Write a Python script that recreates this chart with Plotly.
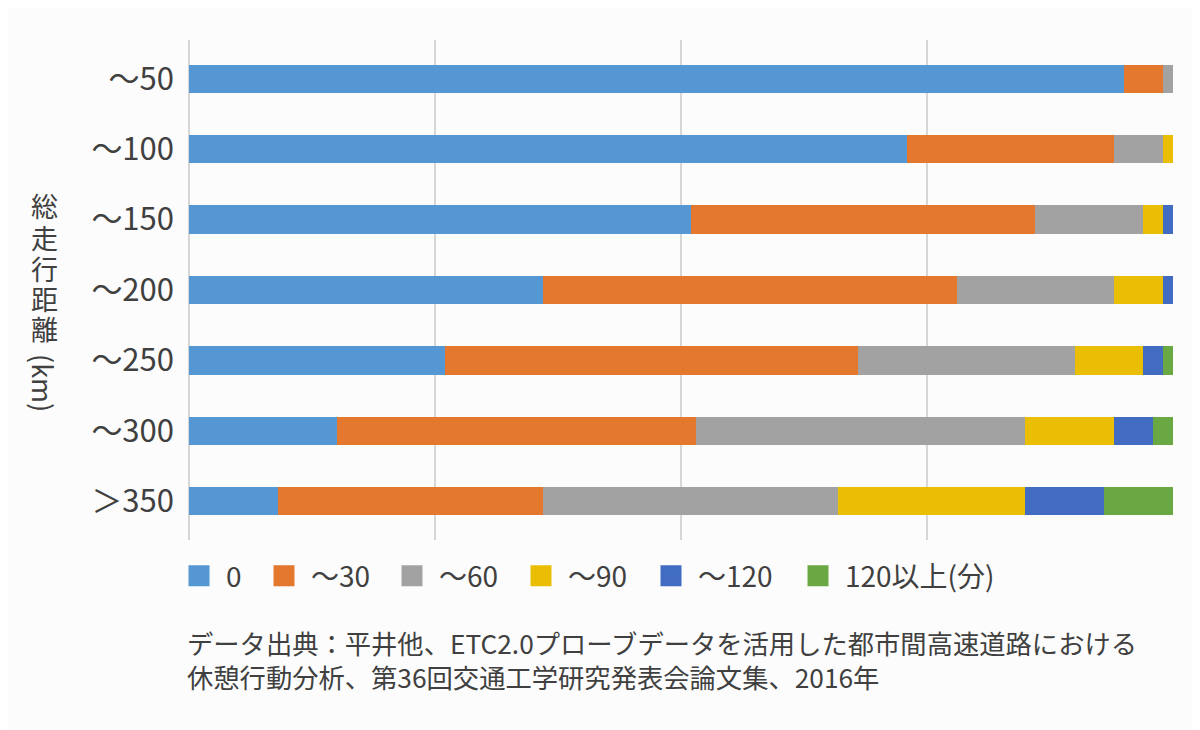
import plotly.graph_objects as go

# ---- data ----
categories = ["～50", "～100", "～150", "～200", "～250", "～300", "＞350"]
series_names = ["0", "～30", "～60", "～90", "～120", "120以上(分)"]
v_0 = [95, 73, 51, 36, 26, 15, 9]
v_30 = [4, 21, 35, 42, 42, 36.5, 27]
v_60 = [1, 5, 11, 16, 22, 33.5, 30]
v_90 = [0, 1, 2, 5, 7, 9, 19]
v_120 = [0, 0, 1, 1, 2, 4, 8]
v_120p = [0, 0, 0, 0, 1, 2, 7]
axis_title_chars = ["総", "走", "行", "距", "離"]
axis_title_unit = "(km)"
note_text = ("データ出典：平井他、ETC2.0プローブデータを活用した都市間高速道路における<br>"
             "休憩行動分析、第36回交通工学研究発表会論文集、2016年")

series_values = [v_0, v_30, v_60, v_90, v_120, v_120p]
colors = ["#5597D3", "#E3782E", "#A2A2A2", "#EBBE06", "#416CC2", "#6AA844"]

FONT = "Noto Sans CJK JP, Noto Sans, sans-serif"
TXT = "#404040"

# page body has an 8px margin, so the figure is 8px smaller and offset
OFF = 8
W, H = 1200 - OFF, 730 - OFF
PLOT_L, PLOT_R, PLOT_T, PLOT_B = 189, 1173, 40, 540  # reference pixel coords
L, R = PLOT_L - OFF, W - (PLOT_R - OFF)
T, B = PLOT_T - OFF, H - (PLOT_B - OFF)
PW, PH = PLOT_R - PLOT_L, PLOT_B - PLOT_T


def px2x(px):
    return (px - PLOT_L) / PW


def py2y(py):
    return (PLOT_B - py) / PH


fig = go.Figure()
# stacked bars
for name, vals, col in zip(series_names, series_values, colors):
    fig.add_trace(go.Bar(
        y=categories, x=vals, name=name, orientation="h",
        marker=dict(color=col, line=dict(width=0)),
        legendgroup=name, showlegend=False, hoverinfo="x+y+name",
    ))
# legend entries (larger square swatches)
for i, (name, col) in enumerate(zip(series_names, colors)):
    lg = "legend" if i == 0 else f"legend{i+1}"
    fig.add_trace(go.Scatter(
        x=[None], y=[None], mode="markers", name=name, legendgroup=name,
        marker=dict(symbol="square", size=16, color=col,
                    line=dict(color=col, width=5)),
        legend=lg, hoverinfo="skip",
    ))

legend_text_x = [224, 309, 437, 566, 696, 843]
layout_legends = {}
for i, tx in enumerate(legend_text_x):
    key = "legend" if i == 0 else f"legend{i+1}"
    layout_legends[key] = dict(
        x=px2x(tx - 52), y=py2y(576), xanchor="left", yanchor="middle",
        orientation="h", itemwidth=44, bgcolor="rgba(0,0,0,0)",
        borderwidth=0, font=dict(family=FONT, size=28, color=TXT),
    )

annotations = []
char_y = [206, 237, 268, 298, 328]
for ch, cy in zip(axis_title_chars, char_y):
    annotations.append(dict(
        text=ch, x=px2x(44), y=py2y(cy), xref="paper", yref="paper",
        showarrow=False, xanchor="center", yanchor="middle",
        font=dict(family=FONT, size=27, color=TXT)))
annotations.append(dict(
    text=axis_title_unit, x=px2x(44), y=py2y(383), xref="paper", yref="paper",
    showarrow=False, xanchor="center", yanchor="middle", textangle=90,
    font=dict(family=FONT, size=27, color=TXT)))
annotations.append(dict(
    text=note_text, x=px2x(185), y=py2y(621), xref="paper", yref="paper",
    showarrow=False, xanchor="left", yanchor="top", align="left",
    font=dict(family=FONT, size=26.3, color=TXT)))

fig.update_layout(
    width=W, height=H,
    margin=dict(l=L, r=R, t=T, b=B, pad=0),
    barmode="stack", bargap=0.6,
    paper_bgcolor="#FCFCFC", plot_bgcolor="#FCFCFC",
    showlegend=True,
    annotations=annotations,
    xaxis=dict(range=[0, 100], tick0=0, dtick=25, showticklabels=False,
               showgrid=True, gridcolor="#D6D6D6", gridwidth=2,
               zeroline=True, zerolinecolor="#D6D6D6", zerolinewidth=2,
               showline=False, ticks=""),
    yaxis=dict(range=[6.55, -0.55], type="category", categoryorder="array",
               categoryarray=categories,
               showgrid=False, zeroline=False, showline=False, ticks="",
               ticklabelstandoff=14,
               tickfont=dict(family=FONT, size=31, color=TXT)),
    **layout_legends,
)

fig.write_html("out.html")
